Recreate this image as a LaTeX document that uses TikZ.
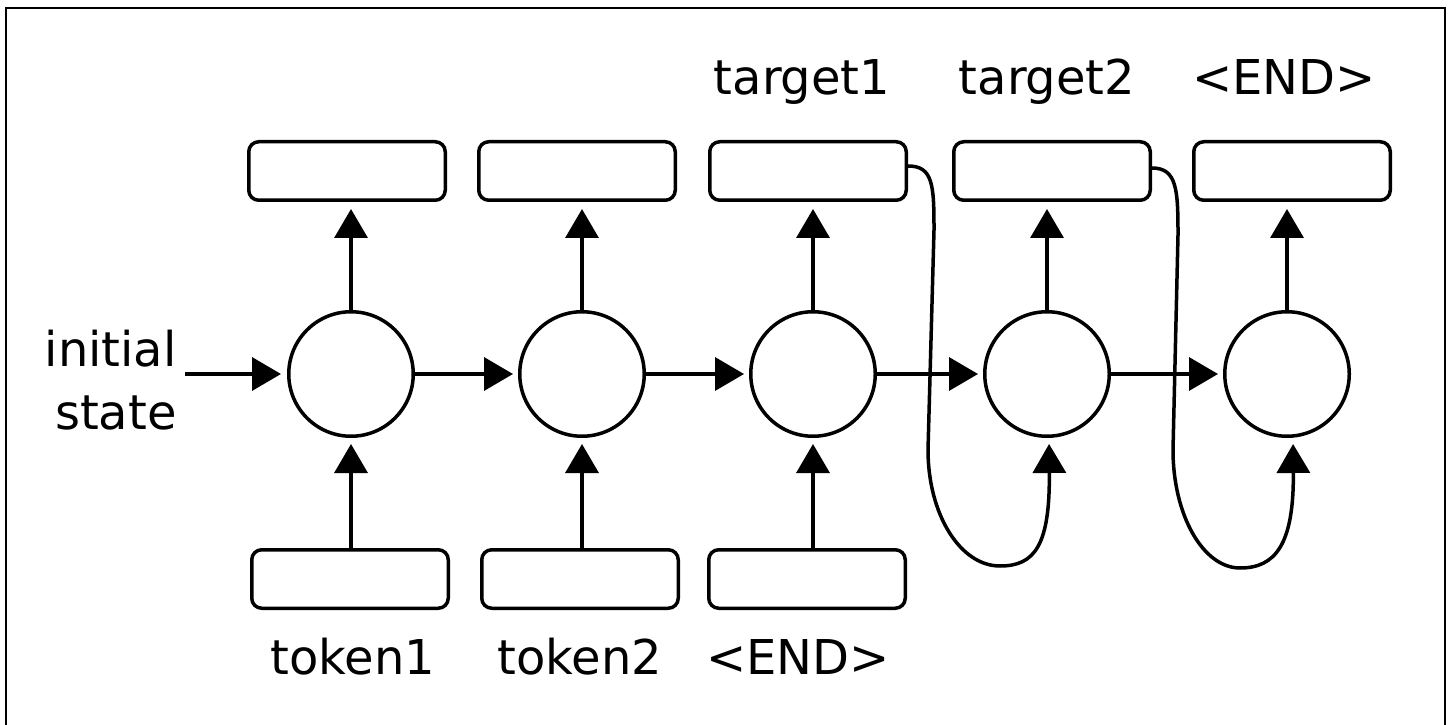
\documentclass[tikz,border=0pt]{standalone}
\usepackage{fontspec}
\setmainfont{DejaVu Sans}
\usepackage{tikz}
\usetikzlibrary{positioning,arrows.meta,calc}

\begin{document}
\begin{tikzpicture}[node distance=2.06cm,
                    cell/.style={draw,circle,line width=0.07cm,
                                 minimum size=2.49cm,inner sep=0pt},
                    vec/.style={draw,rounded corners=0.2cm,line width=0.07cm,
                                minimum width=3.93cm,minimum height=1.17cm,inner sep=0pt},
                    lbl/.style={inner sep=0pt,font=\fontsize{27.3}{35.8}\selectfont},
                    bar/.style={-{Triangle[length=0.58cm,width=0.66cm]},line width=0.07cm}]

  \useasboundingbox (0,0) rectangle (29.04,-14.5);
  \draw[line width=0.04cm] (0.12,-14.7) -- (0.12,-0.16) -- (28.9,-0.16) -- (28.9,-14.7);

  \node[cell] (c1) at (7.02,-7.48) {};
  \node[cell,right=2.06cm of c1] (c2) {};
  \node[cell,right=2.06cm of c2] (c3) {};
  \node[cell,right=2.12cm of c3] (c4) {};
  \node[cell,right=2.24cm of c4] (c5) {};

  \node[vec,above=2.16cm of c1,xshift=-0.08cm] (t1) {};
  \node[vec,above=2.16cm of c2,xshift=-0.1cm]  (t2) {};
  \node[vec,above=2.16cm of c3,xshift=-0.1cm]  (t3) {};
  \node[vec,above=2.16cm of c4,xshift=0.1cm]   (t4) {};
  \node[vec,above=2.16cm of c5,xshift=0.1cm]   (t5) {};

  \node[vec,below=2.2cm of c1,xshift=-0.02cm] (b1) {};
  \node[vec,below=2.2cm of c2,xshift=-0.04cm] (b2) {};
  \node[vec,below=2.2cm of c3,xshift=-0.12cm] (b3) {};

  \node[lbl,above=0.9cm of t3,anchor=base,xshift=-0.12cm] (y1) {target1};
  \node[lbl,above=0.9cm of t4,anchor=base,xshift=-0.1cm]  (y2) {target2};
  \node[lbl,above=0.9cm of t5,anchor=base,xshift=-0.16cm] (y3) {<END>};

  \node[lbl,below=1.28cm of b1,anchor=base,xshift=0.06cm]  (x1) {token1};
  \node[lbl,below=1.28cm of b2,anchor=base]                (x2) {token2};
  \node[lbl,below=1.28cm of b3,anchor=base,xshift=-0.18cm] (x3) {<END>};

  \node[lbl,align=right,left=2.2cm of c1,yshift=-0.12cm] (s0) {initial\\state};

  \draw[bar,shorten >=0.12cm] ($(s0.east |- c1.west)+(0.16,0)$) -- (c1.west);
  \draw[bar,shorten >=0.1cm] (c1) -- (c2);
  \draw[bar,shorten >=0.1cm] (c2) -- (c3);
  \draw[bar,shorten >=0.1cm] (c3) -- (c4);
  \draw[bar,shorten >=0.1cm] (c4) -- (c5);

  \draw[bar,shorten >=0.14cm] (c1.north) -- (c1.north |- t1.south);
  \draw[bar,shorten >=0.14cm] (c2.north) -- (c2.north |- t2.south);
  \draw[bar,shorten >=0.14cm] (c3.north) -- (c3.north |- t3.south);
  \draw[bar,shorten >=0.14cm] (c4.north) -- (c4.north |- t4.south);
  \draw[bar,shorten >=0.14cm] (c5.north) -- (c5.north |- t5.south);

  \draw[bar,shorten >=0.12cm] (b1.north -| c1.south) -- (c1.south);
  \draw[bar,shorten >=0.12cm] (b2.north -| c2.south) -- (c2.south);
  \draw[bar,shorten >=0.12cm] (b3.north -| c3.south) -- (c3.south);

  \draw[bar,shorten >=0.12cm] ([yshift=0.1cm]t3.east)
    .. controls +(0.5,0) and +(0,0.9) .. (18.68,-4.6) -- (18.56,-9.0)
    .. controls +(0,-1.28) and +(-0.8,0) .. (20.0,-11.32)
    .. controls +(0.7,0) and +(0.02,-2.14) .. ([xshift=0.04cm]c4.south);
  \draw[bar,shorten >=0.12cm] ([yshift=0.06cm]t4.east)
    .. controls +(0.5,0) and +(0,0.9) .. (23.56,-4.7) -- (23.46,-9.0)
    .. controls +(0,-1.3) and +(-0.74,0) .. (24.8,-11.36)
    .. controls +(0.7,0) and +(0.02,-2.14) .. ([xshift=0.12cm]c5.south);
\end{tikzpicture}
\end{document}
